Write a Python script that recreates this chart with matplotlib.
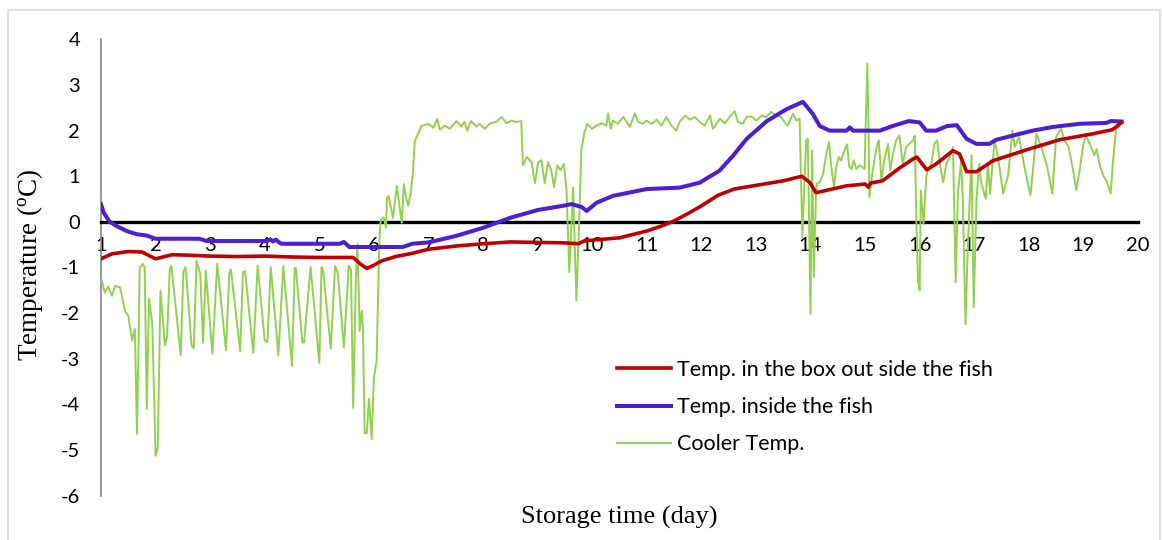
import matplotlib
matplotlib.use("Agg")
import matplotlib.pyplot as plt
from matplotlib.patches import Rectangle

# ---------------- data ----------------
box_day = [1.0, 1.2, 1.5, 1.75, 1.85, 2.0, 2.3, 2.6, 3.0, 3.5, 4.0, 4.5, 5.0, 5.5, 5.62,
           5.75, 5.87, 6.0, 6.15, 6.4, 6.7, 7.0, 7.5, 8.0, 8.5, 9.0, 9.5, 9.74, 9.85, 10.0,
           10.5, 11.0, 11.25, 11.5, 11.75, 12.0, 12.3, 12.6, 13.0, 13.5, 13.84, 13.99, 14.1,
           14.66, 15.0, 15.06, 15.1, 15.32, 15.63, 15.88, 15.95, 16.13, 16.3, 16.61, 16.73,
           16.86, 17.04, 17.34, 17.96, 18.56, 19.17, 19.53, 19.7]
box_temp = [-0.81, -0.7, -0.65, -0.66, -0.72, -0.81, -0.72, -0.73, -0.75, -0.76, -0.75, -0.77,
            -0.78, -0.78, -0.78, -0.92, -1.02, -0.95, -0.85, -0.76, -0.69, -0.6, -0.53, -0.48,
            -0.44, -0.45, -0.46, -0.48, -0.42, -0.4, -0.35, -0.2, -0.1, 0.02, 0.18, 0.35, 0.58,
            0.72, 0.8, 0.9, 1.0, 0.86, 0.64, 0.79, 0.83, 0.76, 0.85, 0.9, 1.18, 1.38, 1.42, 1.14,
            1.27, 1.56, 1.49, 1.1, 1.1, 1.34, 1.58, 1.8, 1.93, 2.02, 2.18]

fish_day = [1.0, 1.05, 1.16, 1.3, 1.47, 1.65, 1.84, 2.0, 2.8, 2.94, 4.05, 4.1, 4.15, 4.2, 4.3,
            5.38, 5.45, 5.55, 6.53, 6.7, 7.0, 7.5, 8.0, 8.5, 9.0, 9.5, 9.62, 9.8, 9.9, 10.08,
            10.38, 11.0, 11.6, 11.97, 12.33, 12.58, 12.83, 13.2, 13.56, 13.86, 14.04, 14.17,
            14.35, 14.66, 14.72, 14.78, 15.27, 15.5, 15.8, 16.0, 16.12, 16.3, 16.5, 16.68, 16.86,
            17.04, 17.28, 17.4, 17.7, 18.07, 18.44, 18.93, 19.42, 19.5, 19.7]
fish_temp = [0.39, 0.2, 0.0, -0.1, -0.2, -0.27, -0.3, -0.37, -0.37, -0.42, -0.42, -0.38, -0.43,
             -0.39, -0.48, -0.48, -0.44, -0.55, -0.55, -0.48, -0.45, -0.31, -0.13, 0.09, 0.26,
             0.36, 0.39, 0.33, 0.24, 0.42, 0.57, 0.72, 0.75, 0.86, 1.12, 1.45, 1.82, 2.21, 2.47,
             2.63, 2.37, 2.1, 2.0, 2.0, 2.07, 2.0, 2.0, 2.1, 2.21, 2.18, 2.0, 2.0, 2.1, 2.12,
             1.82, 1.71, 1.71, 1.8, 1.89, 2.0, 2.08, 2.15, 2.17, 2.21, 2.2]

# cooler temperature, read in several stretches
cooler_day_a = [1.0, 1.07, 1.13, 1.2, 1.26, 1.35, 1.44, 1.5, 1.57, 1.62, 1.66, 1.71, 1.77, 1.8,
                1.84, 1.88, 1.94, 2.0, 2.04]
cooler_temp_a = [-1.23, -1.55, -1.42, -1.62, -1.4, -1.44, -1.95, -2.06, -2.6, -2.35, -4.65, -1.0,
                 -0.92, -1.0, -4.1, -1.69, -2.24, -5.13, -4.95]

cooler_day_b = [2.09, 2.17, 2.21, 2.26, 2.29, 2.46, 2.51, 2.55, 2.66, 2.70, 2.75, 2.82, 2.87, 2.92,
                3.04, 3.13, 3.29, 3.35, 3.38, 3.55, 3.60, 3.64, 3.79, 3.87, 4.00, 4.05, 4.11, 4.25,
                4.34, 4.50, 4.55, 4.57, 4.69, 4.72, 4.84, 5.00, 5.04, 5.07, 5.21, 5.29, 5.34, 5.45,
                5.54, 5.58]
cooler_temp_b = [-1.5, -2.7, -2.53, -1.03, -0.96, -2.92, -1.1, -0.99, -2.71, -2.77, -0.85, -1.14,
                 -2.65, -1.07, -2.89, -0.92, -2.82, -1.14, -1.04, -2.84, -1.1, -1.08, -2.87, -0.96,
                 -2.6, -2.63, -0.99, -2.92, -0.96, -3.16, -1.01, -1.01, -2.65, -2.64, -0.99, -3.09,
                 -0.99, -1.06, -2.78, -0.96, -1.14, -2.75, -0.96, -1.05]

cooler_day_c = [5.62, 5.67, 5.7, 5.74, 5.78, 5.8, 5.83, 5.87, 5.91, 5.96, 6.0, 6.05, 6.1, 6.12,
                6.14, 6.18, 6.22, 6.24, 6.27, 6.35, 6.42, 6.51, 6.55, 6.59, 6.63, 6.67, 6.71, 6.75,
                6.81, 6.87]
cooler_temp_c = [-4.08, -1.22, -0.49, -2.39, -1.95, -2.39, -4.63, -4.63, -3.88, -4.76, -3.42,
                 -3.05, -0.42, -0.02, 0.07, 0.1, -0.13, 0.53, 0.57, 0.09, 0.79, -0.02, 0.83, 0.53,
                 0.35, 0.6, 1.0, 1.78, 1.93, 2.1]

cooler_day_d = [6.995, 7.09, 7.16, 7.21, 7.3, 7.39, 7.51, 7.6, 7.66, 7.71, 7.78, 7.88, 7.94, 8.03,
                8.12, 8.25, 8.34, 8.43, 8.52, 8.61, 8.7, 8.73, 8.8, 8.89, 8.95, 9.01, 9.07, 9.13,
                9.19, 9.25, 9.3, 9.36, 9.42, 9.48, 9.53, 9.58, 9.62, 9.65, 9.71, 9.76, 9.8, 9.86,
                9.91]
cooler_temp_d = [2.15, 2.06, 2.26, 2.02, 2.11, 2.04, 2.21, 2.09, 2.19, 2.0, 2.21, 2.09, 2.15, 2.04,
                 2.15, 2.2, 2.3, 2.16, 2.22, 2.19, 2.21, 1.24, 1.42, 1.31, 0.85, 1.31, 1.35, 0.85,
                 1.31, 1.13, 0.76, 1.24, 1.13, 1.27, 0.69, -1.1, -0.04, 0.76, -1.72, -0.04, 1.57,
                 1.97, 2.15]

cooler_day_e = [9.99, 10.08, 10.17, 10.26, 10.29, 10.34, 10.38, 10.47, 10.57, 10.63, 10.69,
                10.78, 10.84, 10.93, 10.99, 11.09, 11.18, 11.27, 11.36, 11.45, 11.54, 11.6, 11.7,
                11.79, 11.88, 11.97, 12.06, 12.16, 12.21, 12.34, 12.43, 12.52, 12.61, 12.67,
                12.76, 12.83, 12.92, 13.01, 13.1, 13.19, 13.28, 13.37, 13.46, 13.52, 13.58,
                13.68, 13.74, 13.8]
cooler_temp_e = [2.04, 2.11, 2.16, 2.11, 2.38, 2.04, 2.22, 2.15, 2.3, 2.19, 2.08, 2.38,
                 2.19, 2.15, 2.22, 2.15, 2.24, 2.11, 2.3, 2.11, 2.0, 2.19, 2.33, 2.24, 2.3, 2.19,
                 2.11, 2.33, 2.04, 2.26, 2.16, 2.3, 2.43, 2.19, 2.15, 2.3, 2.31, 2.22, 2.33, 2.3,
                 2.41, 2.33, 2.3, 2.19, 2.11, 2.37, 2.22, 2.26]

cooler_day_f = [13.85, 13.92, 13.95, 14.0, 14.03, 14.06, 14.1, 14.12, 14.17,
                14.23, 14.29, 14.34, 14.38, 14.43, 14.47, 14.52, 14.56, 14.61, 14.67, 14.71,
                14.75, 14.79, 14.84, 14.9, 14.95, 14.99, 15.04, 15.06, 15.08, 15.14, 15.21, 15.25,
                15.3, 15.35, 15.42, 15.46, 15.51, 15.57, 15.63, 15.69, 15.75, 15.81, 15.88, 15.91,
                15.94, 15.97, 16.0, 16.02, 16.07, 16.12, 16.15, 16.21, 16.27, 16.32, 16.38, 16.43,
                16.49, 16.55, 16.61, 16.66, 16.7, 16.76, 16.79, 16.84, 16.88, 16.95, 16.99, 17.04,
                17.09]
cooler_temp_f = [-0.33, 1.79, 1.82, -2.02, 1.57, -1.21, 0.62, 0.84, 0.87,
                 1.05, 1.49, 1.75, 1.2, 0.76, 1.2, 1.42, 1.35, 1.53, 1.7, 1.2,
                 1.16, 1.35, 1.16, 1.24, 1.2, 1.16, 3.47, 2.3, 0.54, 1.13, 1.64, 1.79,
                 0.91, 1.35, 1.71, 1.13, 1.49, 1.79, 1.89, 1.27, 1.64, 1.71, 1.79, 1.89,
                 -0.04, -1.29, -1.5, 0.69, -0.04, 0.98, 1.13, 1.27, 1.71, 1.79, 1.2, 0.87,
                 1.27, 1.42, 1.64, -1.32, 0.62, 1.35, 0.47, -2.24, -0.63, 1.46, -1.87, 0.47,
                 1.27]

cooler_day_g = [17.13, 17.21, 17.25, 17.29, 17.37, 17.43, 17.53, 17.62, 17.7, 17.74, 17.82,
                17.92, 18.03, 18.14, 18.23, 18.33, 18.43, 18.5, 18.59, 18.65, 18.73, 18.81, 18.87,
                18.93, 19.0, 19.05, 19.14, 19.2, 19.24, 19.3, 19.37, 19.42, 19.45, 19.5, 19.54,
                19.6, 19.65]
cooler_temp_g = [0.84, 0.51, 1.24, 0.62, 1.79, 1.46, 0.62, 1.02, 2.0, 1.64, 1.86,
                 1.2, 0.58, 1.93, 1.64, 1.24, 0.62, 1.86, 2.04, 1.79, 1.64, 1.13, 0.69,
                 1.13, 1.71, 1.89, 1.64, 1.46, 1.6, 1.24, 1.0, 0.91, 0.8, 0.62, 1.31,
                 2.04, 2.08]

cooler_day = (cooler_day_a + cooler_day_b + cooler_day_c + cooler_day_d + cooler_day_e
              + cooler_day_f + cooler_day_g)
cooler_temp = (cooler_temp_a + cooler_temp_b + cooler_temp_c + cooler_temp_d + cooler_temp_e
               + cooler_temp_f + cooler_temp_g)

x_ticks = list(range(1, 21))
y_ticks = list(range(-6, 5))
series_labels = ["Temp. in the box out side the fish", "Temp. inside the fish", "Cooler Temp."]
x_title = "Storage time (day)"
y_title = "Temperature ($\\mathregular{^{o}}$C)"

# ---------------- figure ----------------
W, H = 1162, 540
fig = plt.figure(figsize=(W / 100, H / 100), dpi=100)
ax = fig.add_axes([101 / W, 1 - 495.6 / H, (1138 - 101) / W, (495.6 - 39.4) / H])

sans = "Lato"
serif = "Liberation Serif"

l1, = ax.plot(box_day, box_temp, color="#C00000", lw=2.6, zorder=4, solid_joinstyle="round")
l2, = ax.plot(fish_day, fish_temp, color="#4B1FD2", lw=2.9, zorder=3, solid_joinstyle="round")
l3, = ax.plot(cooler_day, cooler_temp, color="#92D050", lw=1.4, zorder=2.6)

ax.set_xlim(1, 20)
ax.set_ylim(-6, 4)

for s in ["top", "right"]:
    ax.spines[s].set_visible(False)
ax.spines["left"].set_color("#868686")
ax.spines["left"].set_linewidth(1.2)
ax.spines["bottom"].set_position(("data", 0))
ax.spines["bottom"].set_color("black")
ax.spines["bottom"].set_linewidth(2.4)
ax.spines["bottom"].set_zorder(2.5)

ax.set_xticks(x_ticks)
ax.set_xticklabels([str(v) for v in x_ticks], fontfamily=sans, fontsize=14.5)
ax.set_yticks(y_ticks)
ax.set_yticklabels([str(v) for v in y_ticks], fontfamily=sans, fontsize=14.5)
ax.tick_params(axis="x", length=0, pad=11)
ax.tick_params(axis="y", length=0, pad=15)
ax.patch.set_visible(False)

fig.text(30 / W, 1 - 265 / H, y_title, rotation=90, ha="center", va="center",
         fontfamily=serif, fontsize=19.5)
fig.text(619 / W, 1 - 517 / H, x_title, ha="center", va="center",
         fontfamily=serif, fontsize=19)

leg = fig.legend([l1, l2, l3], series_labels, loc="upper left",
                 bbox_to_anchor=(617 / W, 1 - 360 / H), frameon=False,
                 prop={"family": sans, "size": 15.5}, handlelength=2.5,
                 handletextpad=0.28, labelspacing=0.8, borderpad=0, borderaxespad=0)

fig.add_artist(Rectangle((8 / W, -0.05), (1160 - 8) / W, 0.05 + (H - 10) / H,
                         transform=fig.transFigure, fill=False, ec="#D9D9D9", lw=1.2))

fig.savefig("out.png", dpi=100)
